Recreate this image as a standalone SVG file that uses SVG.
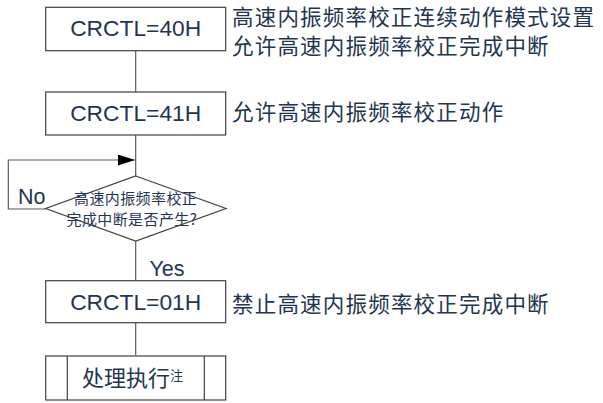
<svg xmlns="http://www.w3.org/2000/svg" width="603" height="403" viewBox="0 0 603 403">
<style>
.box{fill:#fff;stroke:#404040;stroke-width:1.2}
.ln{fill:none;stroke:#5a5a5a;stroke-width:1.2}
.t{font-family:"Liberation Sans",Arial,sans-serif;fill:#1f3550}
.cj{font-family:"Noto Sans CJK SC","Noto Sans",sans-serif;fill:#1f3550}
.big{font-size:22.8px}
.note{font-size:21.5px;letter-spacing:1.2px}
</style>
<defs>
<marker id="ah" markerWidth="17" markerHeight="11" refX="17" refY="5.5" orient="auto" markerUnits="userSpaceOnUse">
<path d="M0,0 L17,5.5 L0,11 Z" fill="#000"/>
</marker>
</defs>
<rect width="603" height="403" fill="#fff"/>
<g id="connectors">
<line class="ln" x1="135.7" y1="51" x2="135.7" y2="92"/>
<line class="ln" x1="135.7" y1="135" x2="135.7" y2="176"/>
<polyline class="ln" points="45.7,209 8.3,209 8.3,160 135,160" marker-end="url(#ah)"/>
<line class="ln" x1="135.7" y1="241" x2="135.7" y2="281"/>
<line class="ln" x1="135.7" y1="323" x2="135.7" y2="355"/>
<text class="t" x="18" y="204" font-size="21.5">No</text>
<text class="t" x="149.5" y="276" font-size="21.5">Yes</text>
</g>
<g id="n1">
<rect class="box" x="45.7" y="7.3" width="180" height="43.4"/>
<text class="t big" x="135.7" y="36" text-anchor="middle">CRCTL=40H</text>
<text class="cj note" x="232" y="24.5">高速内振频率校正连续动作模式设置</text>
<text class="cj note" x="232" y="53.5">允许高速内振频率校正完成中断</text>
</g>
<g id="n2">
<rect class="box" x="45.7" y="92" width="180" height="43"/>
<text class="t big" x="135.7" y="121" text-anchor="middle">CRCTL=41H</text>
<text class="cj note" x="232" y="120">允许高速内振频率校正动作</text>
</g>
<g id="n3">
<polygon class="box" points="135.7,176 226,208.5 135.7,241 45.7,208.5"/>
<text class="cj" x="74" y="204" font-size="15" letter-spacing="0.4" fill="#2c4a68">高速内振频率校正</text>
<text class="cj" x="66.5" y="225" font-size="15" letter-spacing="0.4" fill="#2c4a68">完成中断是否产生?</text>
</g>
<g id="n4">
<rect class="box" x="45.7" y="280.7" width="180" height="42"/>
<text class="t big" x="135.7" y="309.5" text-anchor="middle">CRCTL=01H</text>
<text class="cj note" x="232" y="311.5">禁止高速内振频率校正完成中断</text>
</g>
<g id="n5">
<rect class="box" x="45.7" y="356" width="180" height="44"/>
<line class="box" x1="67.3" y1="356" x2="67.3" y2="400"/>
<line class="box" x1="204.3" y1="356" x2="204.3" y2="400"/>
<text class="cj" x="82" y="385.5" font-size="22">处理执行<tspan font-size="13" dy="-6">注</tspan></text>
</g>
</svg>
